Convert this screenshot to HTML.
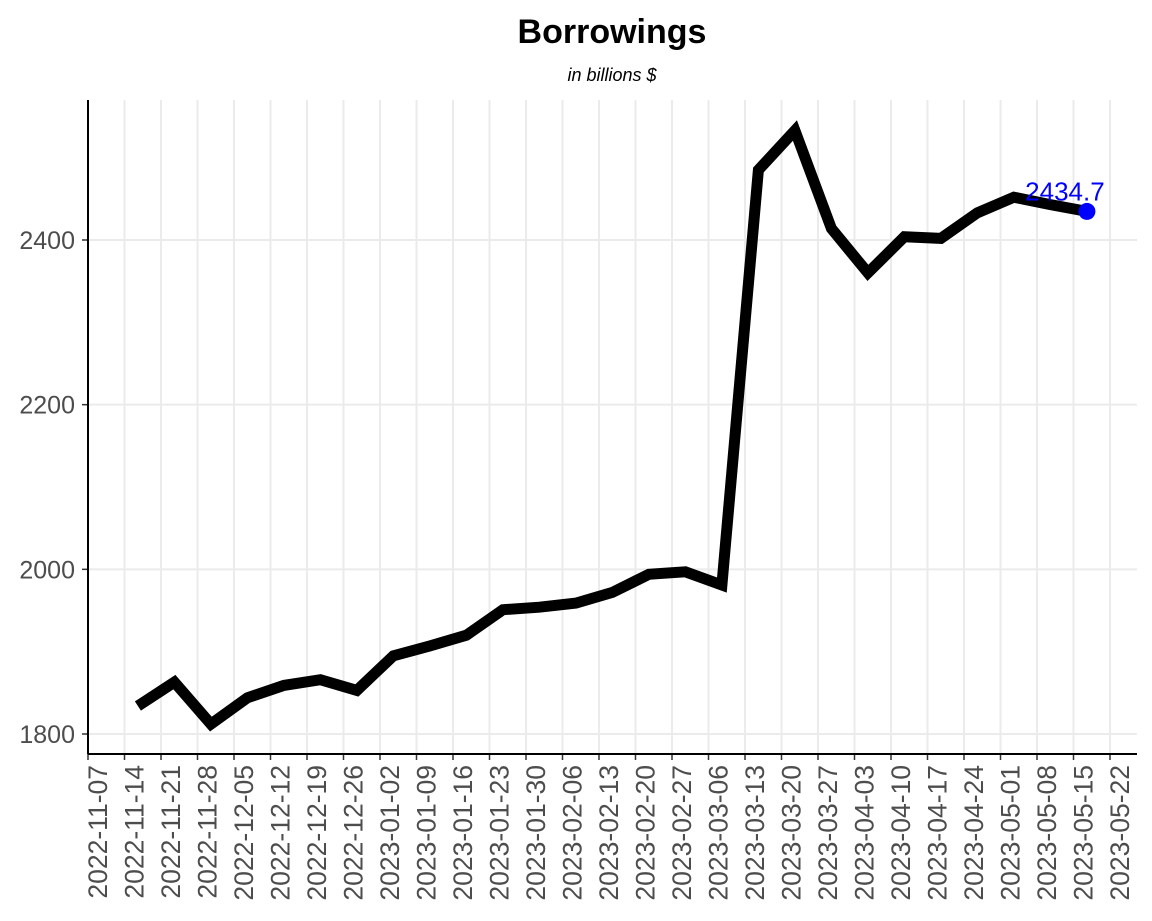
<!DOCTYPE html>
<html><head><meta charset="utf-8"><style>
html,body{margin:0;padding:0;background:#fff;}
svg{display:block;font-family:"Liberation Sans",sans-serif;}
</style></head><body>
<svg id="chart" width="1152" height="921">
<text x="612" y="43" text-anchor="middle" font-size="34" font-weight="bold" fill="#000">Borrowings</text>
<text x="612" y="81" text-anchor="middle" font-size="18" font-style="italic" fill="#000">in billions $</text>
<g id="grid"></g><g id="series"></g><g id="axes"></g>
</svg>
<script>
const dates = ["2022-11-16","2022-11-23","2022-11-30","2022-12-07","2022-12-14","2022-12-21","2022-12-28","2023-01-04","2023-01-11","2023-01-18","2023-01-25","2023-02-01","2023-02-08","2023-02-15","2023-02-22","2023-03-01","2023-03-08","2023-03-15","2023-03-22","2023-03-29","2023-04-05","2023-04-12","2023-04-19","2023-04-26","2023-05-03","2023-05-10","2023-05-17"];
const values = [1834,1863,1812,1844,1859,1866,1853,1895,1907,1920,1951,1954,1959,1972,1994,1997,1981,2485,2533,2414,2360,2404,2402,2433,2452,2443,2434.7];
const yTicks = [1800,2000,2200,2400];
const xTickStart = "2022-11-07";
const xTickCount = 29;

const NS="http://www.w3.org/2000/svg";
const L=88,R=1137,T=100,B=754;
const d0=Date.parse("2022-11-07"), pxPerDay=(1110-88)/196;
function x(d){return L+(Date.parse(d)-d0)/86400000*pxPerDay;}
function y(v){return 734-(v-1800)*(494/600);}
function mk(tag,attrs,parent){const e=document.createElementNS(NS,tag);for(const k in attrs)e.setAttribute(k,attrs[k]);parent.appendChild(e);return e;}
const grid=document.getElementById('grid'),series=document.getElementById('series'),axes=document.getElementById('axes');
mk('rect',{x:L,y:T,width:R-L,height:B-T,fill:'#fff'},grid);
yTicks.forEach(v=>{
  const g=mk('line',{x1:L,x2:R,y1:y(v),y2:y(v),stroke:'#ebebeb','stroke-width':2},grid);
  
  
  mk('line',{x1:L-6,x2:L,y1:y(v),y2:y(v),stroke:'#333','stroke-width':1.5},axes);
  const t=mk('text',{x:L-13,y:y(v)+9,'text-anchor':'end','font-size':25,fill:'#4d4d4d'},axes);
  t.textContent=v;
  
  
});
const ts=Date.parse(xTickStart);
for(let i=0;i<xTickCount;i++){
  const ds=new Date(ts+i*7*86400000).toISOString().slice(0,10);
  const xx=x(ds);
  const g=mk('line',{x1:xx,x2:xx,y1:T,y2:B,stroke:'#ebebeb','stroke-width':2},grid);
  
  
  mk('line',{x1:xx,x2:xx,y1:B,y2:B+6,stroke:'#333','stroke-width':1.5},axes);
  const t=mk('text',{transform:`translate(${xx+19},${B+11}) rotate(-90)`,'text-anchor':'end','font-size':26.5,fill:'#4d4d4d'},axes);
  t.textContent=ds;
  
  
}
mk('line',{x1:L,x2:L,y1:T,y2:B,stroke:'#000','stroke-width':2},axes);
mk('line',{x1:L,x2:R,y1:B,y2:B,stroke:'#000','stroke-width':2},axes);
const off=3;
const pts=dates.map((d,i)=>(x(d)+off).toFixed(1)+','+y(values[i]).toFixed(1)).join(' ');
const pl=mk('polyline',{points:pts,fill:'none',stroke:'#000','stroke-width':11,'stroke-linejoin':'miter','stroke-miterlimit':3},series);


const li=dates.length-1;
const c=mk('circle',{cx:x(dates[li])+off,cy:y(values[li]),r:8.5,fill:'#0000ff'},series);


const lt=mk('text',{x:x(dates[li])+off-22,y:y(values[li])-11,'text-anchor':'middle','font-size':26,fill:'#0000ff'},series);
lt.textContent=values[li].toFixed(1);


</script>
</body></html>
